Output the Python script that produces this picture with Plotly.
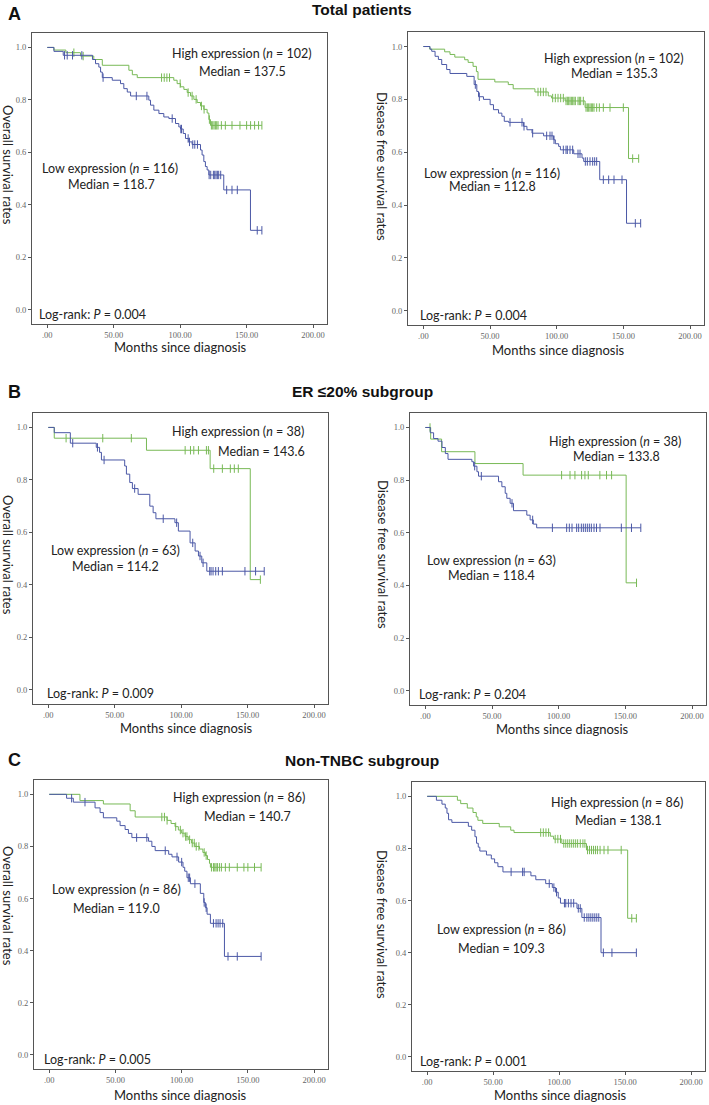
import numpy as np
import plotly.graph_objects as go

W, H = 709, 1105
GREEN = '#78b956'
BLUE = '#4b58a6'

# ---------------- A: total patients ----------------
# overall survival, high expression
a_os_high_t = [0, 5, 14, 25, 35, 41.4, 61.4, 64, 67.7, 95.2, 97.7, 100.3, 102.8, 105.3, 107.8,
               110.3, 112.8, 115.3, 117.8, 120.3, 121.6, 122.8]
a_os_high_s = [1.0, 0.99, 0.98, 0.967, 0.954, 0.932, 0.913, 0.896, 0.885, 0.875, 0.862, 0.85,
               0.84, 0.828, 0.815, 0.802, 0.79, 0.777, 0.764, 0.75, 0.725, 0.703]
a_os_high_c = [20, 27, 86, 88, 90, 92, 100, 106, 109, 112, 116, 118, 122, 123.5, 124.5, 125.5,
               126.5, 127.5, 128.5, 131, 134, 139, 145, 150, 153, 156, 159, 161.5]
# overall survival, low expression
a_os_low_t = [0, 5, 12, 34, 36.3, 38.8, 40.1, 41.4, 48.9, 55.1, 57.6, 60.2, 62.7, 76.4, 77.7,
              80.2, 84, 87.7, 91.5, 96.5, 99, 100.3, 102.3, 104, 106.5, 109, 115.3, 116.5,
              117.8, 119, 120.3, 121.6, 132.8, 152.9]
a_os_low_s = [1.0, 0.985, 0.97, 0.954, 0.938, 0.925, 0.906, 0.885, 0.875, 0.862, 0.843, 0.83,
              0.815, 0.799, 0.78, 0.761, 0.748, 0.735, 0.729, 0.71, 0.697, 0.689, 0.672, 0.653,
              0.64, 0.63, 0.609, 0.59, 0.565, 0.546, 0.533, 0.514, 0.457, 0.303]
a_os_low_c = [13, 15, 19, 26, 42, 67, 75, 94, 100.5, 101, 106, 107, 109.5, 111, 113, 121.8,
              123, 125, 126, 127, 128, 129, 130.5, 135, 139, 143, 158, 161.5]
# disease free survival, high expression
a_dfs_high_t = [0, 4.8, 16, 20, 23.6, 31, 33.6, 37.3, 39.8, 41, 53.6, 63.7, 67.4, 83.7, 93.7,
                96.2, 106.3, 121.3, 153.9]
a_dfs_high_s = [1.0, 0.99, 0.98, 0.97, 0.96, 0.95, 0.94, 0.925, 0.905, 0.876, 0.866, 0.856,
                0.84, 0.828, 0.813, 0.805, 0.794, 0.769, 0.576]
a_dfs_high_c = [86, 88, 90, 92, 97, 99, 101, 103, 105, 107, 108, 109, 110, 111, 112, 113, 114,
                116, 117, 118, 120, 122, 123, 124, 125, 126, 127, 128, 130, 132, 135, 140, 150,
                157, 161.5]
# disease free survival, low expression
a_dfs_low_t = [0, 5, 6.3, 8.8, 11.3, 13.8, 17.5, 20, 32.6, 38.1, 40.1, 41.4, 45.1, 50.1, 52.6,
               56.4, 58.9, 60.7, 63.9, 75.2, 77.7, 81.5, 90.2, 97.7, 99, 101.5, 102.8, 112.8,
               119, 120.3, 132.3, 152.4]
a_dfs_low_s = [1.0, 0.99, 0.982, 0.963, 0.951, 0.932, 0.913, 0.898, 0.887, 0.856, 0.83, 0.81,
               0.8, 0.78, 0.761, 0.748, 0.736, 0.717, 0.713, 0.698, 0.685, 0.672, 0.662, 0.647,
               0.632, 0.622, 0.609, 0.594, 0.578, 0.565, 0.496, 0.331]
a_dfs_low_c = [39, 42, 65, 74, 75.5, 82, 92.5, 95, 96.5, 98, 105, 107, 108, 110, 112, 116,
               117.5, 121.5, 123, 125, 127, 128.5, 130, 135, 139, 143, 149, 159, 163]

# ---------------- B: ER <=20% subgroup ----------------
b_os_high_t = [0, 4.5, 73.9, 121.8, 152]
b_os_high_s = [1.0, 0.959, 0.913, 0.843, 0.42]
b_os_high_c = [13.4, 41, 62.5, 103, 107, 109.5, 113, 119, 120.5, 124.5, 131, 137, 140, 143,
               159.6]
b_os_low_t = [0, 4.5, 16.6, 36.1, 38.6, 40, 57.5, 58.8, 61.3, 63.3, 67.6, 76.4, 78.9, 81, 95.3,
              97.9, 106.7, 110.5, 113, 115.5, 119.3]
b_os_low_s = [1.0, 0.98, 0.94, 0.924, 0.905, 0.876, 0.853, 0.822, 0.79, 0.767, 0.745, 0.70,
              0.675, 0.652, 0.637, 0.605, 0.56, 0.529, 0.51, 0.484, 0.452]
b_os_low_c = [18.4, 37, 42, 65, 86.5, 96.6, 108.7, 114.2, 116.5, 121.5, 122.5, 124, 126, 128,
              131, 148, 156, 162.5]
b_dfs_high_t = [0, 4, 12.2, 37.2, 73.3, 150.6]
b_dfs_high_s = [1.0, 0.956, 0.908, 0.863, 0.819, 0.41]
b_dfs_high_c = [3.5, 102.2, 108.5, 112.2, 117.2, 119.7, 122.2, 130.9, 135.9, 139.7, 158.4]
b_dfs_low_t = [0, 3.7, 6.2, 9.5, 12.5, 15, 17, 34.9, 36.2, 38.7, 39.9, 54.9, 57.4, 59.9, 61.1,
               63.6, 66.1, 76.1, 78.6, 81, 83.5]
b_dfs_low_s = [1.0, 0.98, 0.958, 0.948, 0.924, 0.901, 0.879, 0.87, 0.853, 0.832, 0.815, 0.794,
               0.775, 0.75, 0.731, 0.712, 0.684, 0.667, 0.649, 0.633, 0.619]
b_dfs_low_c = [37, 42, 65, 80.5, 95.3, 106, 108, 110, 113.5, 115, 117, 118.5, 120, 121.5, 123,
               124.5, 126.5, 128.4, 131, 147, 154.6, 161.6]

# ---------------- C: non-TNBC subgroup ----------------
c_os_high_t = [0, 23.2, 40.9, 61.1, 64.9, 89, 92, 95, 97.5, 100, 102.5, 105, 107.5, 110, 113.5,
               116, 118, 119.5, 121, 121.7]
c_os_high_s = [1.0, 0.976, 0.963, 0.937, 0.913, 0.9, 0.888, 0.876, 0.863, 0.851, 0.838, 0.826,
               0.813, 0.8, 0.79, 0.777, 0.765, 0.75, 0.735, 0.72]
c_os_high_c = [85, 87, 89, 95.5, 99, 101, 103, 104, 106, 108, 109.5, 111, 113, 117, 118.5,
               122.5, 124, 125, 126, 127, 128.5, 130, 133, 136, 142, 147, 150, 155, 160]
c_os_low_t = [0, 13.1, 18.2, 34.6, 38.4, 40.9, 51, 53.5, 57.3, 59.8, 62.4, 75, 77.5, 80, 90.2,
              92.7, 97.7, 101, 102.3, 104, 106.6, 114.1, 116.7, 117.9, 119.2, 121.7, 132.3]
c_os_low_s = [1.0, 0.985, 0.97, 0.948, 0.93, 0.91, 0.897, 0.88, 0.865, 0.85, 0.834, 0.82, 0.8,
              0.784, 0.77, 0.76, 0.74, 0.72, 0.705, 0.68, 0.657, 0.62, 0.585, 0.565, 0.54,
              0.505, 0.378]
c_os_low_c = [16.9, 27, 66, 73.7, 87.6, 96.5, 100, 105, 106, 110, 117, 118.5, 124, 126, 127.5,
              129, 131, 135, 142, 160]
c_dfs_high_t = [0, 22.9, 25.4, 30.4, 34.7, 37.2, 38.4, 42.1, 54.6, 63.3, 65.8, 93.3, 95.8, 102,
                120.7, 151.9]
c_dfs_high_s = [1.0, 0.985, 0.972, 0.955, 0.938, 0.921, 0.908, 0.896, 0.883, 0.87, 0.861, 0.847,
                0.836, 0.819, 0.794, 0.532]
c_dfs_high_c = [86, 88, 90, 92, 97, 99, 101, 103.5, 105, 106.5, 108, 109.5, 111, 112.5, 114,
                116, 118, 119.5, 121.5, 123, 124.5, 126, 127.5, 129, 131, 134, 137, 147, 155,
                158.5]
c_dfs_low_t = [0, 7, 11.2, 13.7, 15, 16.2, 18.7, 31.2, 33.7, 36.2, 37.4, 38.7, 39.9, 44.9, 48.6,
               51.1, 53.6, 57.4, 78.6, 82.3, 89.8, 94.8, 97.3, 99.3, 101, 113.5, 117.2, 131.7]
c_dfs_low_s = [1.0, 0.985, 0.97, 0.955, 0.935, 0.91, 0.9, 0.885, 0.87, 0.845, 0.82, 0.805, 0.79,
               0.775, 0.76, 0.745, 0.73, 0.71, 0.695, 0.68, 0.665, 0.65, 0.632, 0.61, 0.59,
               0.57, 0.535, 0.4]
c_dfs_low_c = [63.6, 72.3, 73.5, 92.5, 96, 98, 104, 105, 107, 109, 111, 114.5, 116, 119, 121,
               122.5, 124, 125.5, 127, 128.5, 130, 133.5, 140, 158.5]

x_ticks = [0, 50, 100, 150, 200]
x_ticktext = ['.00', '50.00', '100.00', '150.00', '200.00']
y_ticks = [0, 0.2, 0.4, 0.6, 0.8, 1.0]
y_ticktext = ['0.0', '0.2', '0.4', '0.6', '0.8', '1.0']

OS_TITLE = 'Overall survival rates'
DFS_TITLE = 'Disease free survival rates'

# panel boxes in pixels (left, right, top, bottom) and their labels
panels = [
    dict(box=(32, 327, 33, 324), curves=(a_os_high_t, a_os_high_s, a_os_high_c,
                                          a_os_low_t, a_os_low_s, a_os_low_c),
         ytitle=OS_TITLE, ytpos=(8, 165), xtpos=(180, 347),
         hi=('102', '137.5', (242, 53), (242, 71)), lo=('116', '118.7', (110, 168), (111, 185)),
         p=('0.004', (37, 314))),
    dict(box=(408, 704, 32, 325), curves=(a_dfs_high_t, a_dfs_high_s, a_dfs_high_c,
                                           a_dfs_low_t, a_dfs_low_s, a_dfs_low_c),
         ytitle=DFS_TITLE, ytpos=(382, 166), xtpos=(558, 350),
         hi=('102', '135.3', (614, 58), (614, 74)), lo=('116', '112.8', (492, 173), (492, 186)),
         p=('0.004', (418, 315))),
    dict(box=(33, 328, 413, 704), curves=(b_os_high_t, b_os_high_s, b_os_high_c,
                                           b_os_low_t, b_os_low_s, b_os_low_c),
         ytitle=OS_TITLE, ytpos=(8, 555), xtpos=(187, 728),
         hi=('38', '143.6', (238, 432), (261, 451)), lo=('63', '114.2', (115, 550), (115, 566)),
         p=('0.009', (45, 693))),
    dict(box=(410, 706, 413, 705), curves=(b_dfs_high_t, b_dfs_high_s, b_dfs_high_c,
                                            b_dfs_low_t, b_dfs_low_s, b_dfs_low_c),
         ytitle=DFS_TITLE, ytpos=(383, 554), xtpos=(562, 729),
         hi=('38', '133.8', (615, 441), (616, 457)), lo=('63', '118.4', (491, 560), (491, 575)),
         p=('0.204', (417, 694))),
    dict(box=(34, 328, 780, 1069), curves=(c_os_high_t, c_os_high_s, c_os_high_c,
                                            c_os_low_t, c_os_low_s, c_os_low_c),
         ytitle=OS_TITLE, ytpos=(8, 906), xtpos=(180, 1095),
         hi=('86', '140.7', (239, 797), (247, 816)), lo=('86', '119.0', (116, 889), (116, 908)),
         p=('0.005', (42, 1059))),
    dict(box=(412, 705, 782, 1071), curves=(c_dfs_high_t, c_dfs_high_s, c_dfs_high_c,
                                             c_dfs_low_t, c_dfs_low_s, c_dfs_low_c),
         ytitle=DFS_TITLE, ytpos=(382, 924), xtpos=(560, 1095),
         hi=('86', '138.1', (617, 802), (618, 820)), lo=('86', '109.3', (501, 929), (501, 948)),
         p=('0.001', (418, 1061))),
]

sections = [('A', 'Total patients', 14, 10), ('B', 'ER ≤20% subgroup', 392, 391),
            ('C', 'Non-TNBC subgroup', 760, 760)]


def px(x, y):
    return x / W, 1 - y / H


def note(pos, text, font, **kw):
    x, y = px(*pos)
    return dict(x=x, y=y, xref='paper', yref='paper', text=text, showarrow=False,
                font=font, xanchor=kw.pop('xanchor', 'center'), yanchor='middle', **kw)


def add_km(fig, t, s, cens, color, idx):
    t = np.asarray(t, float)
    s = np.asarray(s, float)
    cens = np.asarray(cens, float)
    end = max(t[-1], cens.max())
    xs = np.append(t, end)
    ys = np.append(s, s[-1])
    ax = '' if idx == 1 else str(idx)
    fig.add_trace(go.Scatter(x=xs, y=ys, mode='lines', line=dict(color=color, width=1, shape='hv'),
                             xaxis='x' + ax, yaxis='y' + ax, hoverinfo='skip'))
    cy = s[np.searchsorted(t, cens, side='right') - 1]
    fig.add_trace(go.Scatter(x=cens, y=cy, mode='markers',
                             marker=dict(symbol='line-ns-open', size=6, color=color,
                                         line=dict(color=color, width=1)),
                             xaxis='x' + ax, yaxis='y' + ax, hoverinfo='skip'))


fig = go.Figure()
annotations = []
TXT = dict(family='Lato, Open Sans, sans-serif', size=12.5, color='#222')
TITLE = dict(TXT, size=13)
HEAD = dict(family='Liberation Sans, Arial', size=15.5, color='#111')

for i, p in enumerate(panels, start=1):
    ht, hs, hc, lt, ls, lc = p['curves']
    add_km(fig, ht, hs, hc, GREEN, i)
    add_km(fig, lt, ls, lc, BLUE, i)
    l, r, top, bot = p['box']
    ax = '' if i == 1 else str(i)
    axis_common = dict(showline=True, mirror=True, linecolor='#555', linewidth=1,
                       ticks='outside', ticklen=3, tickcolor='#555', showgrid=False,
                       zeroline=False,
                       tickfont=dict(family='Liberation Serif, serif', size=8.5, color='#666'))
    fig.update_layout(**{
        'xaxis' + ax: dict(domain=[l / W, r / W], range=[-11.5, 210.5], tickvals=x_ticks,
                           ticktext=x_ticktext, anchor='y' + ax, **axis_common),
        'yaxis' + ax: dict(domain=[1 - bot / H, 1 - top / H], range=[-0.054, 1.055],
                           tickvals=y_ticks, ticktext=y_ticktext, anchor='x' + ax,
                           **axis_common),
    })
    annotations.append(note(p['xtpos'], 'Months since diagnosis', TITLE))
    annotations.append(note(p['ytpos'], p['ytitle'], TITLE, textangle=90))
    n, med, pos1, pos2 = p['hi']
    annotations.append(note(pos1, f'High expression (<i>n</i> = {n})', TXT))
    annotations.append(note(pos2, f'Median = {med}', TXT))
    n, med, pos1, pos2 = p['lo']
    annotations.append(note(pos1, f'Low expression (<i>n</i> = {n})', TXT))
    annotations.append(note(pos2, f'Median = {med}', TXT))
    pv, pos = p['p']
    annotations.append(note(pos, f'Log-rank: <i>P</i> = {pv}', TXT, xanchor='left'))

for letter, title, ly, ty in sections:
    annotations.append(note((15, ly), f'<b>{letter}</b>', dict(HEAD, size=18)))
    annotations.append(note((362, ty), f'<b>{title}</b>', HEAD))

fig.update_layout(width=W, height=H, margin=dict(l=0, r=0, t=0, b=0),
                  paper_bgcolor='white', plot_bgcolor='white', showlegend=False,
                  annotations=annotations)

# the page body has a default 8px margin; drop it so the figure fills the window
fig.write_html("out.html", config={'displayModeBar': False},
               post_script="document.body.style.margin='0';")
